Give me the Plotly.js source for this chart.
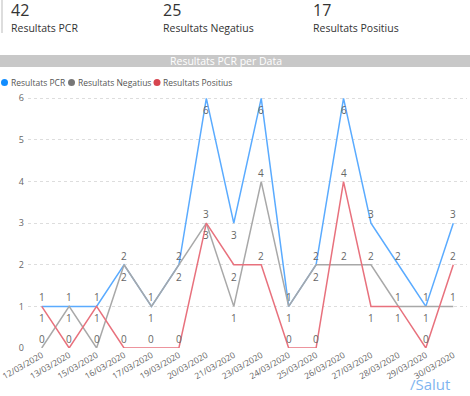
<!DOCTYPE html>
<html>
<head>
<meta charset="utf-8">
<script src="https://cdn.plot.ly/plotly-3.0.1.min.js"></script>
<style>html,body{margin:0;padding:0;background:#fff;}#chart{width:470px;height:396px;}</style>
</head>
<body>
<div id="chart"></div>
<script>
// ---- Data ----
const dates = ["12/03/2020","13/03/2020","15/03/2020","16/03/2020","17/03/2020","19/03/2020","20/03/2020","21/03/2020","23/03/2020","24/03/2020","25/03/2020","26/03/2020","27/03/2020","28/03/2020","29/03/2020","30/03/2020"];
const pcr       = [1,1,1,2,1,2,6,3,6,1,2,6,3,2,1,3];
const negatius  = [0,1,0,2,1,2,3,1,4,1,2,2,2,1,1,1];
const positius  = [1,0,1,0,0,0,3,2,2,0,0,4,1,1,0,2];
const kpiValues = [42, 25, 17];
const kpiLabels = ["Resultats PCR","Resultats Negatius","Resultats Positius"];
const seriesNames = ["Resultats PCR","Resultats Negatius","Resultats Positius"];
const chartTitle = "Resultats PCR per Data";
const brand = "/Salut";

// ---- Label placement (style): 1 = above the point, -1 = below ----
const posPcr = [1,1,1,1,1,1,-1,-1,-1,1,1,-1,1,1,1,1];
const posNeg = [1,-1,1,-1,-1,-1,1,-1,1,-1,-1,1,1,1,-1,1];
const posPos = [-1,1,-1,1,1,1,-1,-1,1,1,1,1,-1,-1,1,1];

const W=470,H=396,L=28,R=3,T=90,B=48;
const pw=W-L-R, ph=H-T-B;
const px = x => (x-L)/pw;
const py = y => (H-B-y)/ph;

const lineColors = ["#5aabff","#a8a8a8","#e8717d"];
const dotColors = ["#118DFF","#777777","#D64550"];
const FONT = "Open Sans, sans-serif";
const labelFont = {family:FONT, size:10, color:"#666"};

function tr(y, name, color){
  return {x:dates, y:y, name:name, type:"scatter", mode:"lines",
    line:{color:color, width:1.5}, cliponaxis:false, showlegend:false, hoverinfo:"x+y"};
}
const data = [
  tr(pcr, seriesNames[0], lineColors[0]),
  tr(negatius, seriesNames[1], lineColors[1]),
  tr(positius, seriesNames[2], lineColors[2])
];

const ann = [];
const shapes = [];
// data labels
[[pcr,posPcr],[negatius,posNeg],[positius,posPos]].forEach(([vals,pos])=>{
  vals.forEach((v,i)=>{
    ann.push({xref:"x",yref:"y",x:dates[i],y:v,text:String(v),showarrow:false,
      xanchor:"center",yanchor:"middle",yshift: pos[i]>0 ? 9 : -12, font:labelFont});
  });
});

const kpiX = [10, 162, 312];
kpiValues.forEach((v,i)=>{
  ann.push({xref:"paper",yref:"paper",x:px(kpiX[i]-1),y:py(10.5),xanchor:"left",yanchor:"middle",showarrow:false,
    text:String(v),font:{family:FONT,size:16,color:"#333"}});
  ann.push({xref:"paper",yref:"paper",x:px(kpiX[i]-1),y:py(28),xanchor:"left",yanchor:"middle",showarrow:false,
    text:kpiLabels[i],font:{family:FONT,size:10.5,color:"#333"}});
});
shapes.push({type:"line",xref:"paper",yref:"paper",x0:px(2),x1:px(2),y0:py(0),y1:py(33),line:{color:"#bbb",width:1}});
shapes.push({type:"rect",xref:"paper",yref:"paper",x0:px(0),x1:px(470),y0:py(67),y1:py(55),fillcolor:"#c8c8c8",line:{width:0},layer:"below"});
ann.push({xref:"paper",yref:"paper",x:px(226),y:py(61),xanchor:"center",yanchor:"middle",showarrow:false,
  text:chartTitle,font:{family:FONT,size:10.5,color:"#fff"}});

// custom legend
const legDot = [4.5, 71.5, 157];
legDot.forEach((cx,i)=>{
  shapes.push({type:"circle",xref:"paper",yref:"paper",x0:px(cx-3.5),x1:px(cx+3.5),y0:py(82.5+3.5),y1:py(82.5-3.5),
    fillcolor:dotColors[i],line:{width:0}});
  ann.push({xref:"paper",yref:"paper",x:px(cx+4),y:py(82.5),xanchor:"left",yanchor:"middle",showarrow:false,
    text:seriesNames[i],font:{family:FONT,size:8.5,color:"#555"}});
});
ann.push({xref:"paper",yref:"paper",x:px(452),y:py(384),xanchor:"right",yanchor:"middle",showarrow:false,
  text:brand,font:{family:FONT,size:15,color:"#7fb5f0"}});

const layout = {
  width:W, height:H, margin:{l:L,r:R,t:T,b:B,pad:0},
  paper_bgcolor:"#fff", plot_bgcolor:"#fff", showlegend:false,
  xaxis:{type:"category", range:[-0.5,15.5], showgrid:false, zeroline:false, showline:false,
    tickangle:-30, tickfont:{family:FONT,size:8.5,color:"#666"}, ticks:"", fixedrange:true},
  yaxis:{range:[0,6.2], tickvals:[0,1,2,3,4,5,6], showgrid:true, gridcolor:"#ddd", griddash:"dot", gridwidth:1,
    zeroline:false, showline:false, ticks:"", ticklabelstandoff:3,
    tickfont:{family:FONT,size:9,color:"#666"}, fixedrange:true},
  annotations:ann, shapes:shapes
};
Plotly.newPlot("chart", data, layout, {displayModeBar:false, staticPlot:true});
</script>
</body>
</html>
